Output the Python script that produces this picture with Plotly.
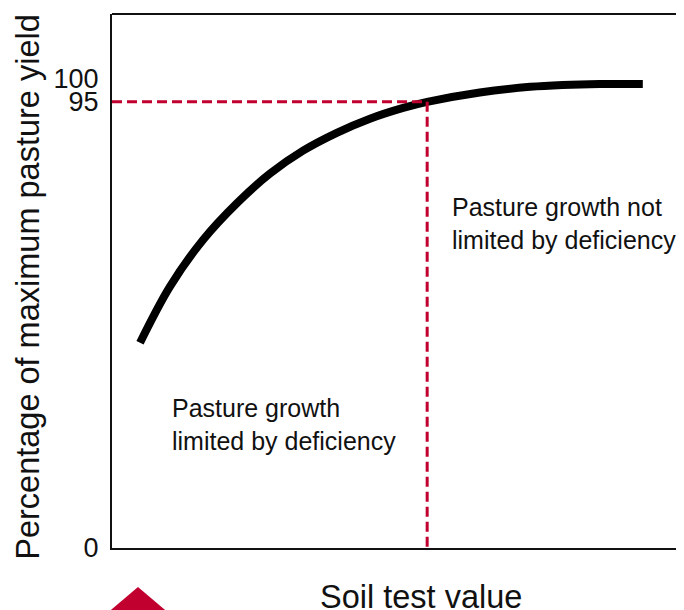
import plotly.graph_objects as go

# ── Data ──────────────────────────────────────────────────────────────────────
soil_test = [4.9, 10.1, 15.9, 21.9, 27.6, 33.4, 39.3, 45.1, 50.9, 55.1,
             64.3, 73.1, 78.8, 85.3, 92.8]
yield_pct = [43.7, 55.6, 65.6, 73.5, 79.7, 84.6, 88.4, 91.4, 93.7, 95.0,
             97.0, 98.2, 98.6, 98.8, 98.8]

CRITICAL_X = 55.1      # soil test value where yield reaches 95 %
TARGET_Y = 95
Y_TICKS = [0, 95, 100]

# ── Style tokens ──────────────────────────────────────────────────────────────
FONT = "Liberation Sans, Arial, sans-serif"
RED = "#c1002f"
INK = "#111111"

fig = go.Figure()

# response curve
fig.add_trace(go.Scatter(
    x=soil_test, y=yield_pct,
    mode="lines",
    line=dict(color="black", width=8, shape="spline", smoothing=1.0),
    hoverinfo="skip", showlegend=False,
))

# 95 % guide lines
fig.add_trace(go.Scatter(
    x=[0, CRITICAL_X], y=[TARGET_Y, TARGET_Y],
    mode="lines", line=dict(color=RED, width=3, dash="10px,5px"),
    hoverinfo="skip", showlegend=False,
))
fig.add_trace(go.Scatter(
    x=[CRITICAL_X, CRITICAL_X], y=[TARGET_Y, 0],
    mode="lines", line=dict(color=RED, width=3, dash="10px,5px"),
    hoverinfo="skip", showlegend=False,
))

# region labels
fig.add_annotation(
    x=59.1, y=69.0, xref="x", yref="y",
    text="Pasture growth not<br>limited by deficiency",
    showarrow=False, xanchor="left", yanchor="middle", align="left",
    font=dict(family=FONT, size=25, color=INK),
)
fig.add_annotation(
    x=10.1, y=26.4, xref="x", yref="y",
    text="Pasture growth<br>limited by deficiency",
    showarrow=False, xanchor="left", yanchor="middle", align="left",
    font=dict(family=FONT, size=25, color=INK),
)

# axis titles as annotations so they sit exactly
fig.add_annotation(
    x=0.533, y=-0.092, xref="paper", yref="paper",
    text="Soil test value", showarrow=False,
    xanchor="center", yanchor="middle",
    font=dict(family=FONT, size=32.5, color=INK),
)
fig.add_annotation(
    x=-0.145, y=0.489, xref="paper", yref="paper",
    text="Percentage of maximum pasture yield", showarrow=False,
    textangle=-90, xanchor="center", yanchor="middle",
    font=dict(family=FONT, size=32.5, color=INK),
)

# top frame line (right edge is cut off in the reference)
fig.add_shape(
    type="line", xref="paper", yref="paper",
    x0=0, x1=1, y0=1, y1=1,
    line=dict(color=INK, width=2),
)

# red triangle marker peeking in at the bottom-left
fig.add_shape(
    type="path", xref="paper", yref="paper",
    path="M -0.0224,-0.135 L 0.0448,-0.073 L 0.112,-0.135 Z",
    fillcolor=RED, line=dict(width=0),
)

# page body adds an 8px offset, so margins are trimmed to compensate
fig.update_layout(
    width=684, height=610,
    margin=dict(l=104, r=0, t=6, b=70),
    paper_bgcolor="white", plot_bgcolor="white",
    font=dict(family=FONT, color=INK, size=28),
    showlegend=False,
    xaxis=dict(
        range=[0, 101.4], showgrid=False, zeroline=False,
        showticklabels=False, ticks="",
        showline=True, linecolor=INK, linewidth=2,
    ),
    yaxis=dict(
        range=[0, 113.7], showgrid=False, zeroline=False,
        tickvals=Y_TICKS, ticktext=[str(v) for v in Y_TICKS],
        ticks="", ticklabelstandoff=6,
        tickfont=dict(family=FONT, size=27, color=INK),
        showline=True, linecolor=INK, linewidth=2,
    ),
)

fig.write_html("out.html")
